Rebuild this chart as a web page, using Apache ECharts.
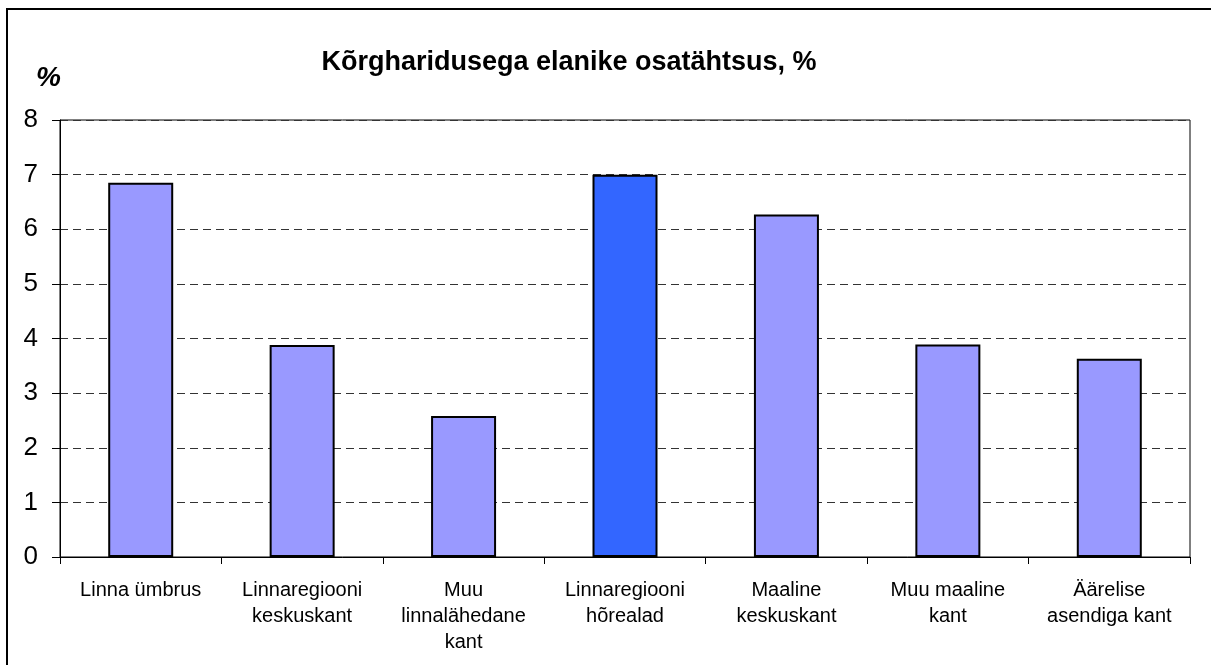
<!DOCTYPE html>
<html>
<head>
<meta charset="utf-8">
<script src="https://cdn.jsdelivr.net/npm/echarts@6/dist/echarts.min.js"></script>
<style>
  html, body { margin: 0; padding: 0; background: #fff; }
  #chart { width: 1211px; height: 665px; }
</style>
</head>
<body>
<div id="chart"></div>
<script>
(function () {
var myChart = echarts.init(document.getElementById("chart"));

var categories = ["Linna ümbrus", "Linnaregiooni\nkeskuskant", "Muu\nlinnalähedane\nkant",
    "Linnaregiooni\nhõrealad", "Maaline\nkeskuskant", "Muu maaline\nkant", "Äärelise\nasendiga kant"];
var values = [6.85, 3.88, 2.58, 7.0, 6.27, 3.89, 3.63];
var highlight = "Linnaregiooni\nhõrealad";

var font = "Arial, 'Liberation Sans', sans-serif";

var barData = [];
for (var i = 0; i < values.length; i++) {
    barData.push({
        value: values[i],
        itemStyle: { color: categories[i] === highlight ? "#3366FF" : "#9999FF" }
    });
}

var option = {
    animation: false,
    backgroundColor: "#fff",
    title: {
        text: "Kõrgharidusega elanike osatähtsus, %",
        left: 564,
        top: 44,
        textAlign: "center",
        textStyle: { fontFamily: font, fontSize: 27, fontWeight: "bold", color: "#000" }
    },
    graphic: [{
        type: "rect",
        shape: { x: 7, y: 9, width: 1400, height: 900 },
        style: { fill: "none", stroke: "#000", lineWidth: 2 },
        silent: true
    }, {
        type: "text",
        left: 36,
        top: 64,
        style: { text: "%", font: "italic bold 28px " + font, fill: "#000" }
    }],
    grid: {
        left: 60,
        right: 21,
        top: 120,
        bottom: 108,
        show: true,
        borderColor: "#000",
        borderWidth: 1
    },
    xAxis: {
        type: "category",
        data: categories,
        axisLine: { lineStyle: { color: "#000", width: 1 } },
        axisTick: { show: true, length: 7, lineStyle: { color: "#000" } },
        axisLabel: {
            color: "#000",
            fontFamily: font,
            fontSize: 20,
            lineHeight: 26,
            margin: 20,
            interval: 0
        }
    },
    yAxis: {
        type: "value",
        min: 0,
        max: 8,
        interval: 1,
        axisLine: { show: true, lineStyle: { color: "#000", width: 1 } },
        axisTick: { show: true, length: 8, lineStyle: { color: "#000" } },
        axisLabel: { color: "#000", fontFamily: font, fontSize: 26, margin: 22 },
        splitLine: { lineStyle: { color: "#333", type: [8, 5], width: 1 } }
    },
    series: [{
        type: "bar",
        data: barData,
        barWidth: 65,
        itemStyle: { borderColor: "#000", borderWidth: 2 }
    }]
};

myChart.setOption(option);
window.addEventListener("resize", function () {
    myChart.resize();
});
})();
</script>
</body>
</html>
